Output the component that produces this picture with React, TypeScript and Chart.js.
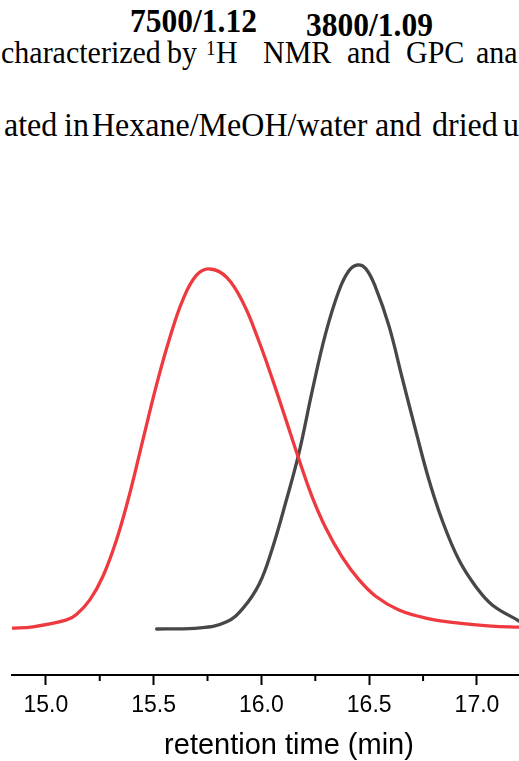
import React, { useEffect, useRef } from "react";
import { Chart, registerables } from "chart.js";

Chart.register(...registerables);

// GPC traces: retention time (min) vs normalised RI signal
const RED_TIME = [14.838, 14.94, 15.096, 15.142, 15.204, 15.265, 15.328, 15.39, 15.45, 15.514, 15.575, 15.636, 15.699, 15.761, 15.839, 15.916, 15.985, 16.049, 16.112, 16.174, 16.234, 16.298, 16.374, 16.453, 16.53, 16.638, 16.762, 16.916, 17.07, 17.195];
const RED_SIGNAL = [0.002, 0.006, 0.025, 0.04, 0.08, 0.145, 0.245, 0.374, 0.519, 0.672, 0.8, 0.905, 0.972, 0.989, 0.966, 0.895, 0.796, 0.69, 0.578, 0.466, 0.365, 0.278, 0.198, 0.135, 0.09, 0.052, 0.03, 0.016, 0.008, 0.005];

const GRAY_TIME = [15.514, 15.715, 15.839, 15.916, 15.991, 16.05, 16.112, 16.174, 16.236, 16.298, 16.36, 16.406, 16.445, 16.484, 16.53, 16.592, 16.653, 16.716, 16.777, 16.839, 16.916, 16.994, 17.071, 17.195];
const GRAY_SIGNAL = [0, 0.003, 0.02, 0.058, 0.125, 0.22, 0.346, 0.483, 0.655, 0.812, 0.93, 0.984, 1.0, 0.99, 0.938, 0.832, 0.69, 0.545, 0.41, 0.298, 0.19, 0.117, 0.066, 0.022];

const X_TICKS = [15.0, 15.5, 16.0, 16.5, 17.0];
const X_MINOR_TICKS = [14.75, 15.25, 15.75, 16.25, 16.75, 17.25];

const X_MIN = 14.843;
const X_MAX = 17.413;
const Y_MIN = -0.1264;
const Y_MAX = 1.1786;

const RED = "#EE3A3F";
const GRAY = "#474747";
const INK = "#000000";
const SANS = '"Liberation Sans", Arial, sans-serif';
const SERIF = '"Liberation Serif", "Times New Roman", serif';

const toPoints = (xs: number[], ys: number[]) => xs.map((x, i) => ({ x, y: ys[i] }));

const minorTickPlugin = {
  id: "minorTicks",
  afterDraw(chart: any) {
    const scale = chart.scales.x;
    const { ctx, chartArea } = chart;
    ctx.save();
    ctx.strokeStyle = INK;
    ctx.lineWidth = 2;
    for (const v of X_MINOR_TICKS) {
      const px = scale.getPixelForValue(v);
      if (px < chartArea.left || px > chartArea.right) continue;
      ctx.beginPath();
      ctx.moveTo(px, chartArea.bottom);
      ctx.lineTo(px, chartArea.bottom + 6);
      ctx.stroke();
    }
    ctx.restore();
  },
};

// A word of body text placed by its left edge and baseline; glyphs are
// drawn slightly taller than the standard serif face.
type WordProps = { text: string; left: number; baseline: number; size: number; bold?: boolean };
const Word = ({ text, left, baseline, size, bold }: WordProps) => {
  const ascent = 0.8375 * size;
  return (
    <span
      style={{
        position: "absolute",
        left,
        top: baseline - ascent,
        fontFamily: SERIF,
        fontSize: size,
        lineHeight: `${size}px`,
        fontWeight: bold ? 700 : 400,
        whiteSpace: "pre",
        color: "#000",
        transform: "scaleY(1.05)",
        transformOrigin: `0 ${ascent}px`,
      }}
    >
      {text}
    </span>
  );
};

const traceStyle = {
  borderWidth: 3.3,
  tension: 0.4,
  borderCapStyle: "round",
  borderJoinStyle: "round",
  pointRadius: 0,
  fill: false,
};

export default function App() {
  const canvasRef = useRef<HTMLCanvasElement | null>(null);

  useEffect(() => {
    const canvas = canvasRef.current;
    if (!canvas) return;
    const chart = new Chart(canvas, {
      type: "line",
      data: {
        datasets: [
          { data: toPoints(RED_TIME, RED_SIGNAL), borderColor: RED, ...traceStyle },
          { data: toPoints(GRAY_TIME, GRAY_SIGNAL), borderColor: GRAY, ...traceStyle },
        ],
      },
      options: {
        responsive: false,
        animation: false,
        devicePixelRatio: 1,
        layout: { padding: { left: 12, right: 0, top: 0, bottom: 0 } },
        plugins: { legend: { display: false }, tooltip: { enabled: false } },
        scales: {
          x: {
            type: "linear",
            min: X_MIN,
            max: X_MAX,
            afterBuildTicks: (s: any) => {
              s.ticks = X_TICKS.map((value) => ({ value }));
            },
            afterFit: (s: any) => {
              s.height = 86;
            },
            grid: {
              drawOnChartArea: false,
              drawTicks: true,
              tickLength: 10,
              tickWidth: 2,
              tickColor: INK,
            },
            border: { display: true, color: INK, width: 2 },
            ticks: {
              padding: 7,
              color: INK,
              autoSkip: false,
              maxRotation: 0,
              font: { family: SANS, size: 23 },
              callback: (v: any) => Number(v).toFixed(1),
            },
            title: {
              display: true,
              text: "retention time (min)",
              color: INK,
              font: { family: SANS, size: 29, lineHeight: 1 },
              padding: { top: 0, bottom: 0.5 },
            },
          },
          y: { display: false, min: Y_MIN, max: Y_MAX },
        },
      },
      plugins: [minorTickPlugin],
    } as any);
    return () => chart.destroy();
  }, []);

  return (
    <div
      style={{
        position: "absolute",
        left: 0,
        top: 0,
        width: 519,
        height: 761,
        overflow: "hidden",
        background: "#fff",
      }}
    >
      <Word text="7500/1.12" left={130} baseline={32} size={31.5} bold />
      <Word text="3800/1.09" left={306} baseline={36} size={31.5} bold />

      <Word text="characterized" left={1} baseline={63} size={30} />
      <Word text="by" left={167} baseline={63} size={30} />
      <Word text="1" left={206} baseline={55} size={19} />
      <Word text="H" left={216} baseline={63} size={30} />
      <Word text="NMR" left={263} baseline={63} size={30} />
      <Word text="and" left={347} baseline={63} size={30} />
      <Word text="GPC" left={406} baseline={63} size={30} />
      <Word text="ana" left={476} baseline={63} size={30} />

      <Word text="ated" left={4} baseline={136} size={32} />
      <Word text="in" left={64} baseline={136} size={32} />
      <Word text="Hexane/MeOH/water" left={92} baseline={136} size={32} />
      <Word text="and" left={375} baseline={136} size={32} />
      <Word text="dried" left={432} baseline={136} size={32} />
      <Word text="u" left={503} baseline={136} size={32} />

      <canvas
        ref={canvasRef}
        width={566}
        height={561}
        style={{ position: "absolute", left: 0, top: 200, width: 566, height: 561 }}
      />
    </div>
  );
}
